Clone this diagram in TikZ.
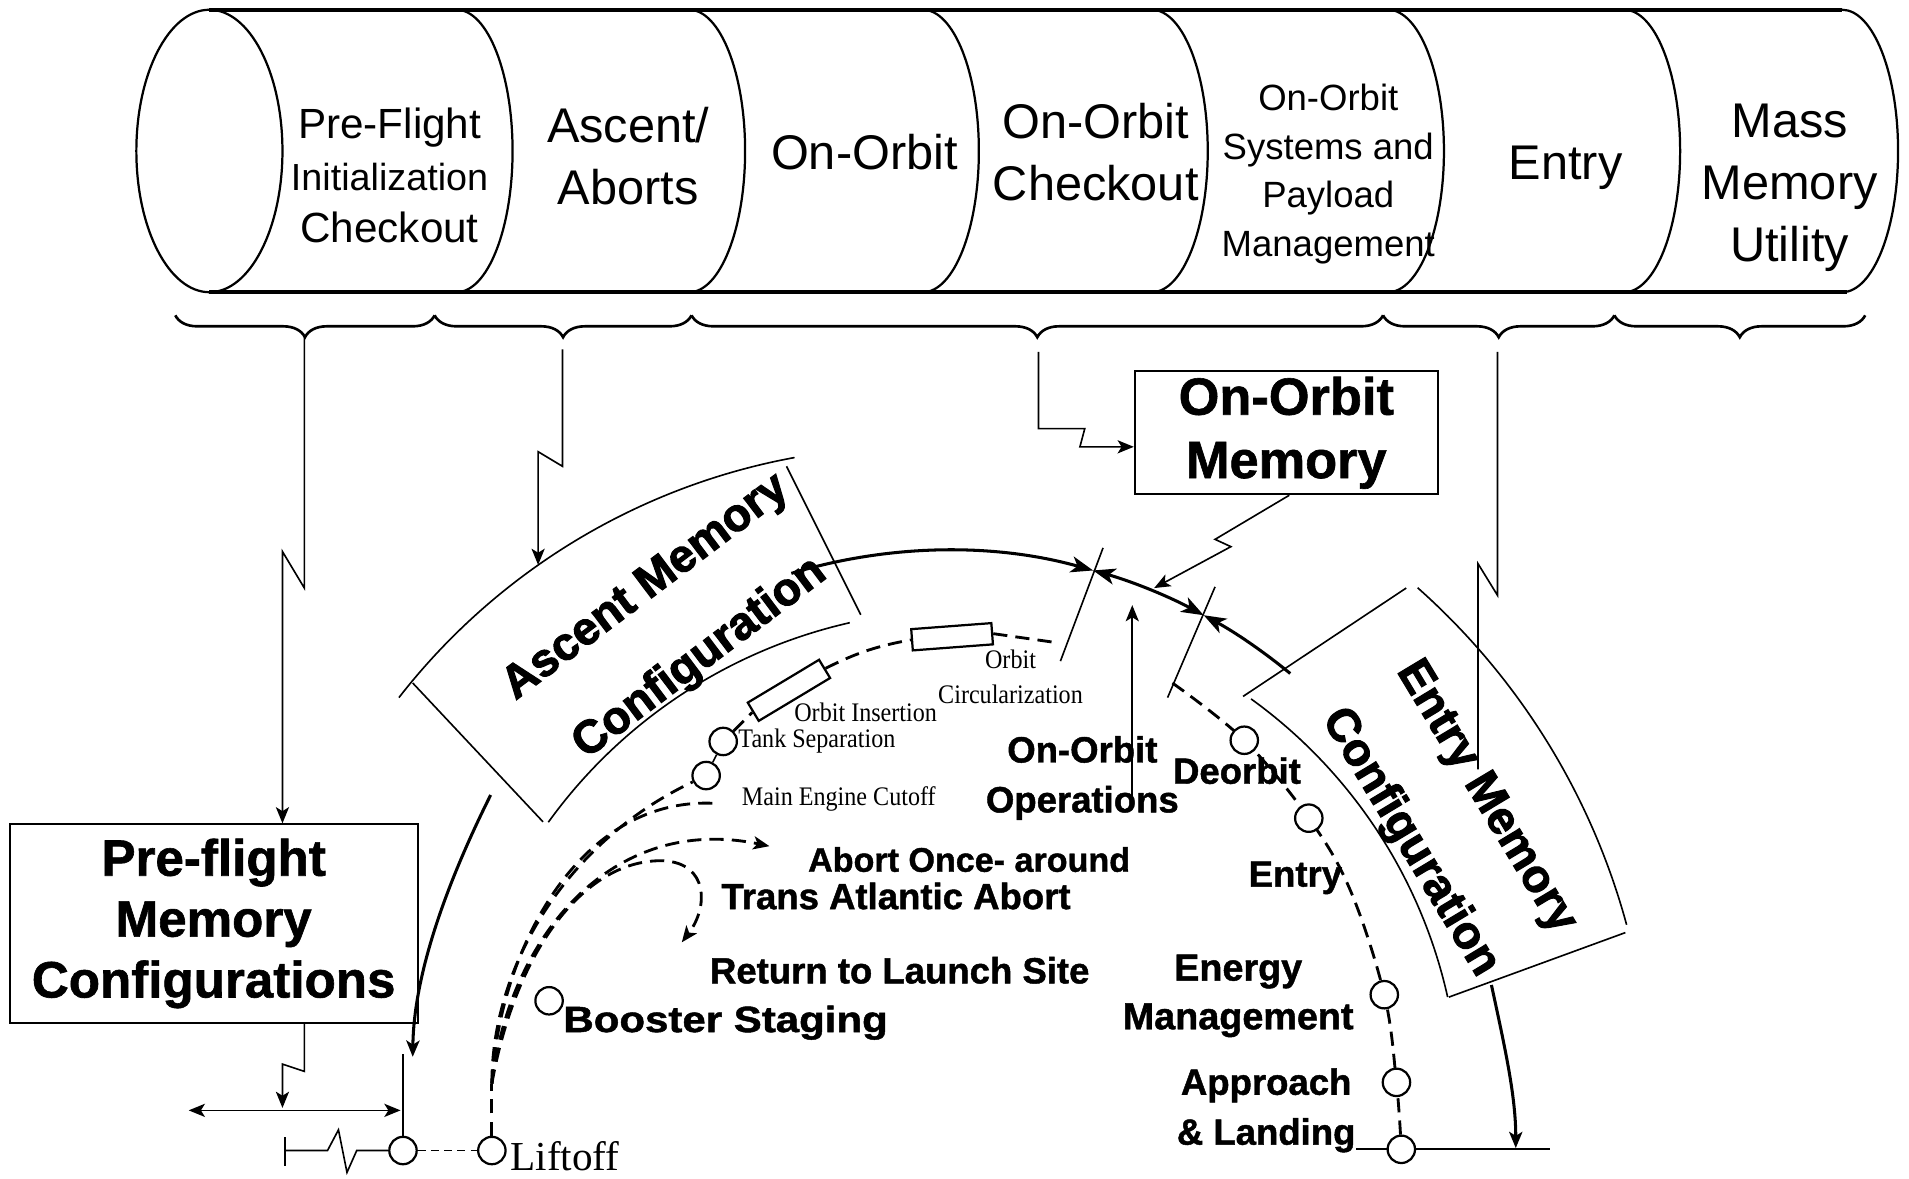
\documentclass[tikz,border=0pt]{standalone}
\usepackage{fontspec}
\usepackage{graphicx}
\setmainfont{Liberation Sans}
\newfontfamily\heavy[BoldFeatures={FakeBold=1.2}]{Liberation Sans}
\newfontfamily\heavier[BoldFeatures={FakeBold=2.2}]{Liberation Sans}
\newfontfamily\serifn[FakeStretch=0.9]{Liberation Serif}
\newfontfamily\seriff{Liberation Serif}
\usetikzlibrary{arrows.meta,calc,decorations.pathreplacing}
\pgfdeclarelayer{bg}
\pgfsetlayers{bg,main}
\begin{document}
\begin{tikzpicture}[x=0.6pt,y=-0.6pt,
  lnthin/.style={line width=0.8pt},
  lnthick/.style={line width=1.5pt},
  cylarc/.style={line width=1.1pt},
  cyledge/.style={line width=1.8pt},
  brc/.style={line width=1.3pt, decorate, decoration={brace,mirror,amplitude=10.8pt}},
  arr/.style={-{Stealth[length=8pt,width=6.5pt,inset=2pt]}},
  bigtip/.style={-{Stealth[length=11pt,width=8pt,inset=3pt]}},
  dsh/.style={line width=1.4pt, dash pattern=on 7pt off 4pt},
  stop/.style={circle, draw, line width=1.1pt, fill=white, minimum size=13.5pt, inner sep=0pt},
  evt/.style={draw, line width=1.1pt, fill=white, minimum height=10.5pt, inner sep=0pt},
  cyltxt/.style={align=center, inner sep=0pt, font=\fontsize{24}{30.6}\selectfont},
  lbl/.style={align=center, inner sep=0pt, font=\heavy\bfseries\fontsize{18}{24.6}\selectfont},
  sm/.style={align=center, inner sep=0pt, font=\serifn\fontsize{13.2}{17.4}\selectfont},
  cfg/.style={inner sep=0pt, font=\heavier\bfseries\fontsize{22.8}{27}\selectfont},
  membox/.style={draw, line width=0.9pt, align=center, inner sep=2pt, font=\heavy\bfseries\fontsize{25.2}{30}\selectfont}
]
\useasboundingbox (0,0) rectangle (1568,968);

% ---------------- cylinder ----------------
\draw[cylarc] (172,124) ellipse [x radius=36pt, y radius=69.6pt];
\draw[cyledge] (172,8) -- (1513,8);
\draw[cyledge] (172,240) -- (1517,240);
\foreach \cx in {375,566,758,946,1140,1334,1513}
  \draw[cylarc] (\cx,8) arc[start angle=90, end angle=-90, x radius=27.6pt, y radius=69.6pt];

\node[cyltxt, font=\fontsize{20.8}{25.8}\selectfont] (cpf) at (320,144)
  {Pre-Flight\\{\fontsize{18.6}{25.8}\selectfont Initialization}\\Checkout};
\node[cyltxt] (caa) at (516,128) {Ascent/\\Aborts};
\node[cyltxt] (coo) at (710,125) {On-Orbit};
\node[cyltxt] (coc) at (900,125) {On-Orbit\\Checkout};
\node[cyltxt, font=\fontsize{18}{24}\selectfont] (cos) at (1091,143) {On-Orbit\\Systems and\\Payload\\Management};
\node[cyltxt] (cen) at (1286,138) {Entry};
\node[cyltxt] (cmm) at (1470,154) {Mass\\Memory\\Utility};

% ---------------- braces ----------------
\draw[brc] (144,259) -- (357,259);
\draw[brc] (357,259) -- (568,259);
\draw[brc] (568,259) -- (1136,259);
\draw[brc] (1136,259) -- (1326,259);
\draw[brc] (1326,259) -- (1532,259);
\coordinate (tip1) at (250,277);
\coordinate (tip2) at (462,287);
\coordinate (tip3) at (853,289);
\coordinate (tip4) at (1230,289);

% ---------------- boxes ----------------
\node[membox, minimum width=201pt, minimum height=97.8pt] (pfbox) at (175.5,758.5)
  {Pre-flight\\Memory\\Configurations};
\node[membox, minimum width=149.4pt, minimum height=60.6pt, font=\heavy\bfseries\fontsize{25.8}{31.2}\selectfont]
  (oobox) at (1056.5,355.5) {On-Orbit\\Memory};

% Ascent memory configuration (curved box)
\coordinate (ac1) at (749,901);
\coordinate (ac2) at (791,921);
\draw[lnthin] ($(ac1)+(142.1:320.4pt)$) arc[start angle=142.1, end angle=100.4, radius=320.4pt];
\draw[lnthin] ($(ac2)+(144.2:252pt)$) arc[start angle=144.2, end angle=102.8, radius=252pt];
\draw[lnthin] (339,561) -- (446,675);
\draw[lnthin] (646,383) -- (707,505);
\node[cfg, rotate=37] (asc1) at (531,483) {Ascent Memory};
\node[cfg, rotate=37] (asc2) at (575,541) {Configuration};

% Entry memory configuration (curved box)
\coordinate (ec) at (786,909);
\draw[lnthin] ($(ec)+(48.4:342pt)$) arc[start angle=48.4, end angle=15.2, radius=342pt];
\draw[lnthin] ($(ec)+(54.2:247.8pt)$) arc[start angle=54.2, end angle=12.6, radius=247.8pt];
\draw[lnthin] (1155,483) -- (1021,572);
\draw[lnthin] (1335,766) -- (1190,819);
\node[cfg, rotate=-59] (ent1) at (1220,655) {Entry Memory};
\node[cfg, rotate=-59] (ent2) at (1158,692) {Configuration};

% ---------------- main memory arc ----------------
\coordinate (mc) at (778,895);
\coordinate (A0) at ($(mc)+(106.8:265.8pt)$);
\coordinate (T1) at ($(mc)+(74.3:265.8pt)$);
\coordinate (T2) at ($(mc)+(61.6:265.8pt)$);
\draw[lnthick, bigtip] (A0) arc[start angle=106.8, end angle=74.3, radius=265.8pt];
\draw[lnthick, {Stealth[length=11pt,width=8pt,inset=3pt]}-{Stealth[length=11pt,width=8pt,inset=3pt]}]
  (T1) arc[start angle=74.3, end angle=61.6, radius=265.8pt];
\draw[lnthick, {Stealth[length=11pt,width=8pt,inset=3pt]}-]
  (T2) arc[start angle=61.6, end angle=50.5, radius=265.8pt];
\draw[lnthin] (906,450) -- (871,543);
\draw[lnthin] (998,482) -- (959,573);

% ---------------- connectors ----------------
\coordinate (z1) at (232,453);
\draw[lnthin, arr] (tip1) -- (250,483) -- (z1) -- (z1 |- pfbox.north);
\draw[lnthin, arr] (tip2) -- (462,383) -- (442,371) -- (442,464);
\coordinate (z3) at (887,367);
\draw[lnthin, arr] (tip3) -- (853,352) -- (891,352) -- (z3) -- (z3 -| oobox.west);
\draw[lnthin] (tip4) -- (1230,489) -- (1214,463) -- (1214,632);
\draw[lnthin, arr] ($(oobox.south)+(2.5,0)$) -- (998,443) -- (1011,449) -- (948,483);
\draw[lnthin, arr] (930,663) -- (930,497);

% pre-flight box to pad
\coordinate (z7) at (232,874);
\draw[lnthin, arr] (pfbox.south -| tip1) -- (250,880) -- (z7) -- (232,910);
\draw[lnthin, {Stealth[length=8pt,width=6.5pt,inset=2pt]}-{Stealth[length=8pt,width=6.5pt,inset=2pt]}] (155,912) -- (329,912);

% thick curves of the memory path
\draw[lnthick, arr] (403,653) .. controls (377,705) and (340,790) .. (339,868);
\draw[lnthick, arr] (1225,809) .. controls (1236,860) and (1245,900) .. (1245,943);
\draw[line width=1.1pt] (1114,944) -- (1273,944);

% ---------------- events on trajectory ----------------
\node[stop] (pad) at (331,945) {};
\node[stop] (lift) at (404,945) {};
\node[stop] (bsc) at (451,822) {};
\node[stop] (meco) at (580,637) {};
\node[stop] (ts) at (594,609) {};
\node[stop] (deoc) at (1022,608) {};
\node[stop] (entc) at (1075,672) {};
\node[stop] (emc) at (1137,817) {};
\node[stop] (alc) at (1147,889) {};
\node[stop] (lndc) at (1151,944) {};
\node[evt, rotate=31, minimum width=41pt] (oi) at (648,567) {};
\node[evt, rotate=4.3, minimum width=39.6pt] (oc) at (782,523) {};

\draw[line width=1.1pt] (331,866) -- (pad.north);
\draw[lnthin] (234,934) -- (234,958);
\draw[lnthin] (234,945) -- (269,945) -- (278,928) -- (285,963) -- (293,945) -- (pad.west);
\draw[lnthin, dash pattern=on 4pt off 2.5pt] (pad.east) -- (lift.west);

\coordinate (trk) at (404,890);
\begin{pgfonlayer}{bg}
\draw[dsh] (lift.north) -- (trk);
\draw[dsh] (trk) .. controls (404,790) and (468,690) .. (meco);
\draw[dsh] (trk) .. controls (410,780) and (476,652) .. (590,660);
\draw[dsh, arr] (trk) .. controls (418,770) and (502,668) .. (632,695);
\draw[dsh, arr] (trk) .. controls (424,778) and (482,705) .. (545,707)
   .. controls (582,709) and (582,745) .. (560,774);
\draw[dsh] (963,561) plot[smooth, tension=0.6] coordinates {(963,561) (deoc) (entc) (1109,731) (emc) (alc) (lndc)};
\end{pgfonlayer}
\draw[lnthin] (meco) -- (ts);
\draw[dsh] (ts) -- (oi.west);
\draw[dsh] (oi.east) to[bend left=8] (oc.west);
\draw[dsh] (oc.east) -- (869,528);

% ---------------- labels ----------------
\node[sm] (loi) at (711,585) {Orbit Insertion};
\node[sm] (lts) at (671,609) {Tank Separation};
\node[sm] (lmeco) at (689,656) {Main Engine Cutoff};
\node[sm] (loc) at (830,556) {Orbit\\Circularization};
\node[font=\seriff\fontsize{20.3}{24}\selectfont, anchor=base west, inner sep=0pt] (llift) at (419,961) {Liftoff};

\node[lbl] (oop) at (889,639) {On-Orbit\\Operations};
\node[lbl] (deo) at (1016,633) {Deorbit};
\node[lbl] (ent) at (1064,721) {Entry};
\node[lbl, font=\heavy\bfseries\fontsize{18.6}{24}\selectfont] (emg) at (1017,818) {Energy\\Management};
\node[lbl] (alnd) at (1040,912) {Approach\\\& Landing};
\node[lbl, font=\heavy\bfseries\fontsize{16.8}{20}\selectfont] (aoa) at (796,706) {Abort Once- around};
\node[lbl] (tal) at (736,736) {Trans Atlantic Abort};
\node[lbl] (rtls) at (739,797) {Return to Launch Site};
\node[lbl] (bst) at (596,840) {\scalebox{1.15}[1]{Booster Staging}};
\end{tikzpicture}
\end{document}
